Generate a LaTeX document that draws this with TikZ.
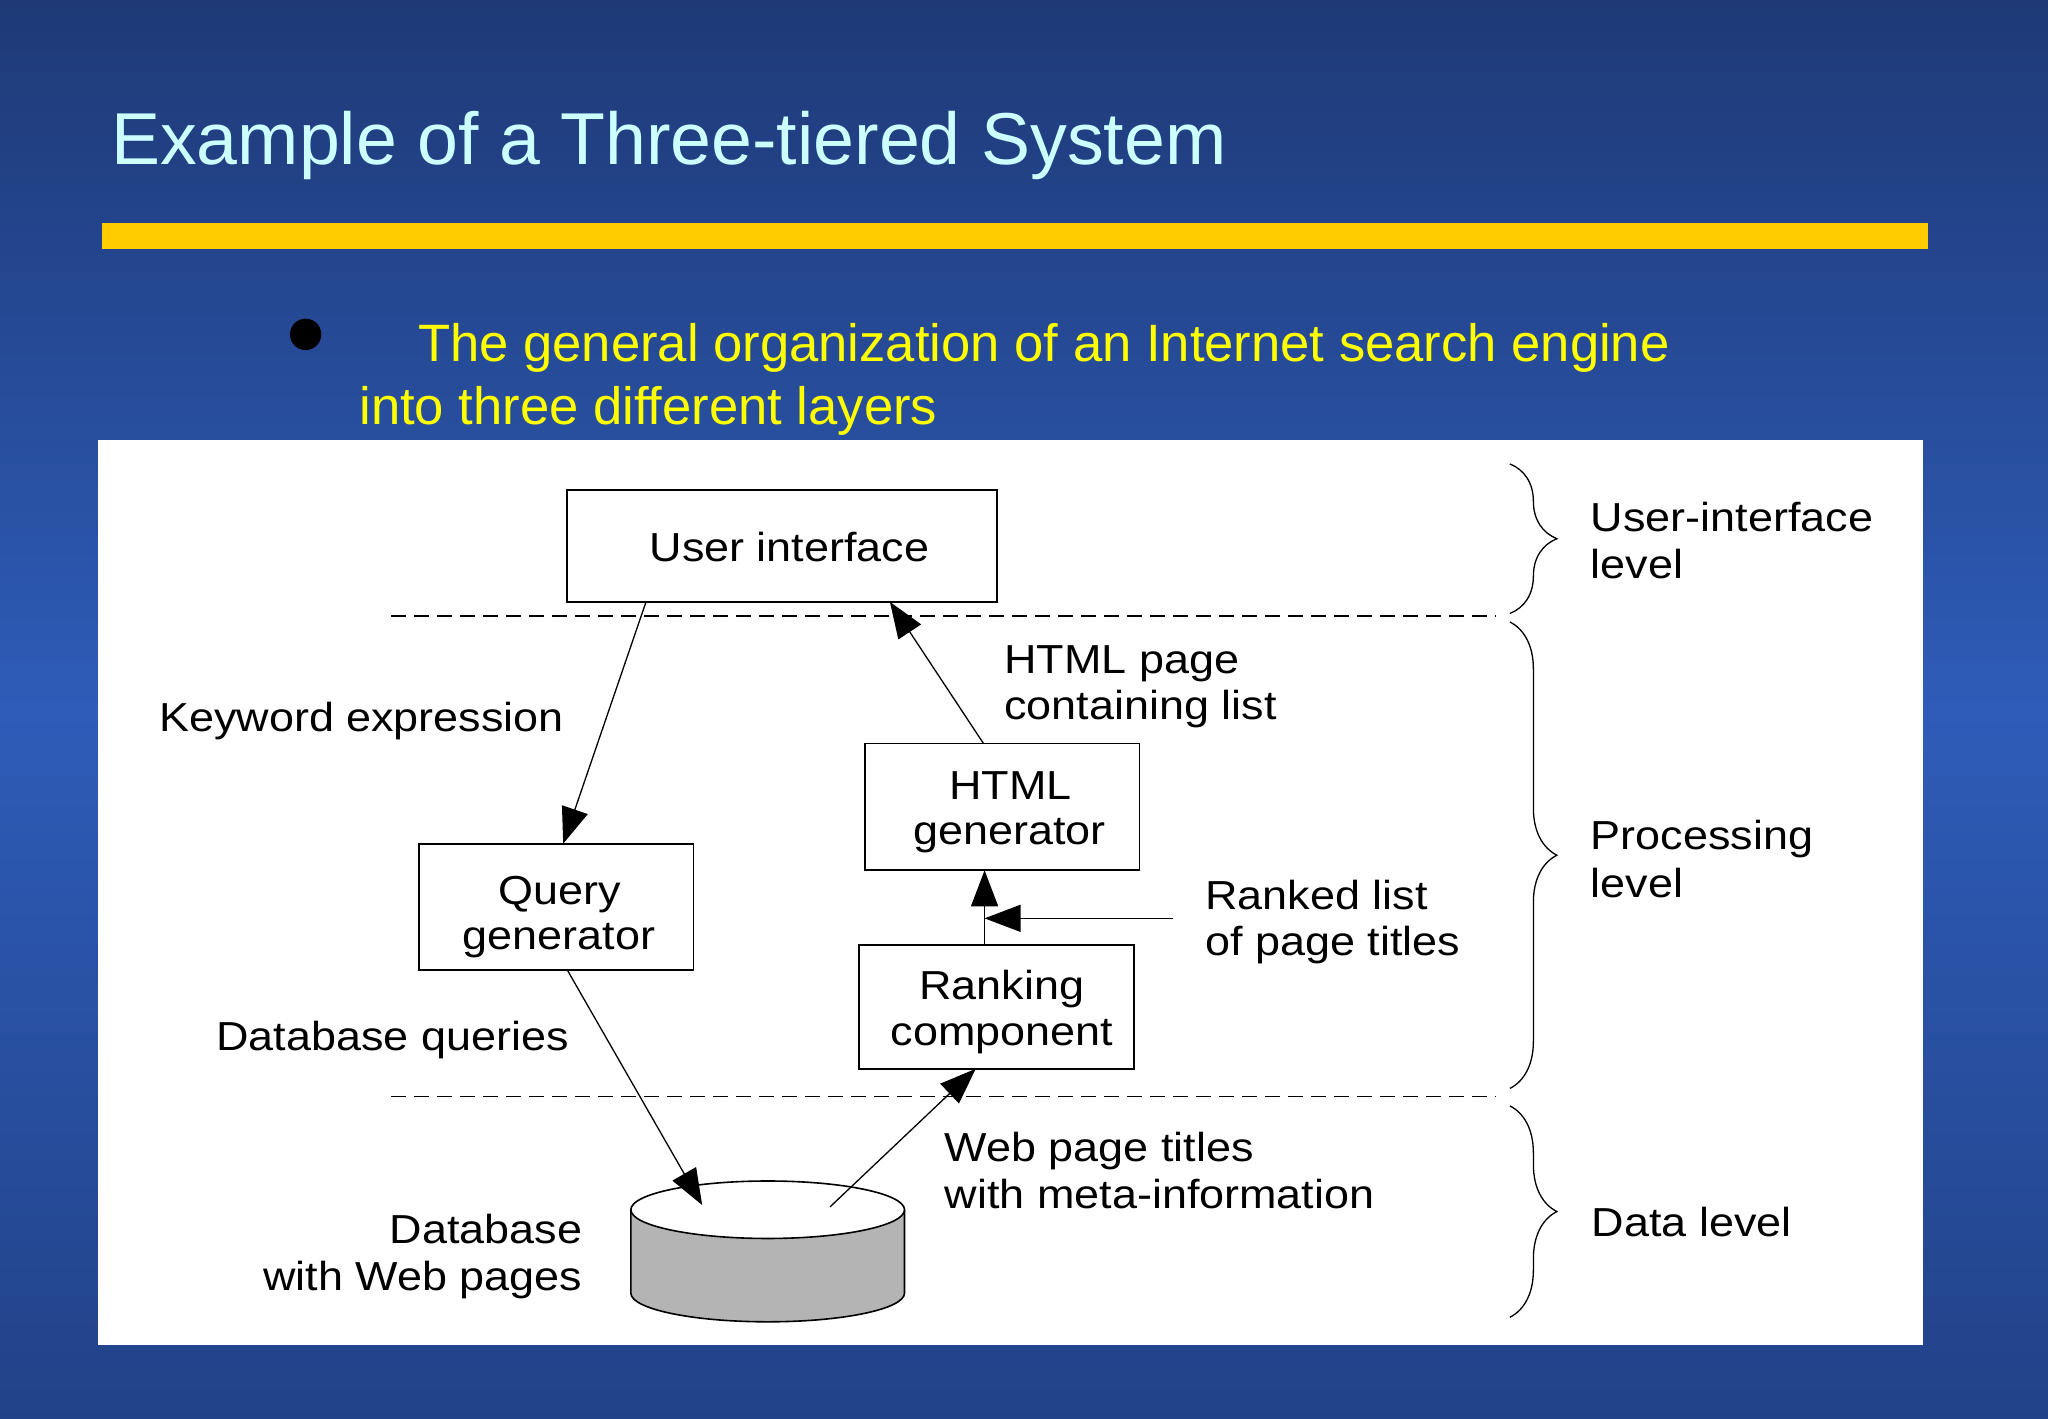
\documentclass[tikz,border=0pt]{standalone}
\usepackage{fontspec}
\setmainfont{Liberation Sans}
\newfontfamily\diagfont[FakeStretch=1.11]{Liberation Sans}
\usetikzlibrary{arrows.meta,decorations.pathreplacing,calc}
\definecolor{bgtop}{RGB}{30,57,118}
\definecolor{bgmid}{RGB}{46,92,184}
\definecolor{bgbot}{RGB}{34,66,136}
\definecolor{titlecol}{RGB}{204,255,255}
\definecolor{barcol}{RGB}{255,204,0}
\definecolor{bulletcol}{RGB}{255,255,0}
\definecolor{dbgray}{RGB}{180,180,180}
\begin{document}
\begin{tikzpicture}[x=1.3061pt,y=-1.3061pt,
  dfont/.style={font=\diagfont\fontsize{40.5}{45.5}\selectfont},
  box/.style={draw=black,line width=1.6pt,fill=white,inner sep=0pt,outer sep=0pt},
  lab/.style={dfont,inner sep=0pt,text=black},
  btxt/.style={lab,anchor=base},
  arr/.style={line width=1.3pt,-{Triangle[length=36pt,width=27pt]}},
  sep/.style={line width=1.3pt,dash pattern=on 15pt off 8pt},
  brc/.style={line width=1.3pt,decorate,decoration={brace,amplitude=47pt}}]
\useasboundingbox (0,0) rectangle (1568,1086);
\shade[top color=bgtop,bottom color=bgbot,middle color=bgmid] (0,0) rectangle (1568,1086);
% title and bar
\node[anchor=base west,inner sep=0pt,text=titlecol,font=\fontsize{73.5}{80}\selectfont] (title) at (85,126.3) {Example of a Three-tiered System};
\fill[barcol] (78,171) rectangle (1476,191);
% bullet
\fill[black] (234,256) circle [radius=12];
\node[anchor=base west,inner sep=0pt,text=bulletcol,font=\fontsize{52.6}{60}\selectfont] (b1) at (320,277) {The general organization of an Internet search engine};
\node[anchor=base west,inner sep=0pt,text=bulletcol,font=\fontsize{52.6}{60}\selectfont] (b2) at (275,325) {into three different layers};
% panel
\fill[white] (75,336.5) rectangle (1472,1030);
% separators
\draw[sep] (299.4,471.6) -- (1145,471.6);
\draw[sep] (299.4,839.7) -- (1145,839.7);
% database cylinder
\fill[dbgray] (483,926.2) -- (483,990) arc[start angle=180,end angle=0,x radius=104.75,y radius=22] -- (692.5,926.2) -- cycle;
\draw[line width=1.6pt] (483,926.2) -- (483,990) arc[start angle=180,end angle=0,x radius=104.75,y radius=22] -- (692.5,926.2);
\draw[line width=1.6pt,fill=white] (587.75,926.2) ellipse [x radius=104.75,y radius=22];
\coordinate (dbin) at (537.6,922.6);
\coordinate (dbout) at (635.5,924);
% boxes
\node[box,minimum width=430pt,minimum height=111.8pt] (ui) at (598.7,418) {};
\node[btxt] (uit) at (604.5,430) {User interface};
\node[box,minimum width=274.3pt,minimum height=126pt] (qg) at (425.8,694.2) {};
\node[btxt] (qgt1) at (428.5,692.4) {Query};
\node[btxt] (qgt2) at (428,726.6) {generator};
\node[box,minimum width=274.5pt,minimum height=126.7pt] (hg) at (767.3,617.8) {};
\node[btxt] (hgt1) at (773.5,611.8) {HTML};
\node[btxt] (hgt2) at (773,646.3) {generator};
\node[box,minimum width=274.5pt,minimum height=123.6pt] (rc) at (762.9,771) {};
\node[btxt] (rct1) at (767,765.2) {Ranking};
\node[btxt] (rct2) at (767,800.1) {component};
% arrows
\draw[arr] ($(ui.south west)!0.1838!(ui.south east)$) -- ($(qg.north west)!0.5257!(qg.north east)$);
\draw[arr] ($(hg.north west)!0.432!(hg.north east)$) -- ($(ui.south west)!0.751!(ui.south east)$);
\coordinate (vx) at (753.8,700);
\draw[arr] (rc.north -| vx) -- (hg.south -| vx);
\coordinate (rlstart) at (898.3,703.1);
\draw[arr] (rlstart) -- (rlstart -| vx);
\draw[arr] ($(qg.south west)!0.54!(qg.south east)$) -- (dbin);
\draw[arr] (dbout) -- ($(rc.south west)!0.4244!(rc.south east)$);
% labels
\node[lab,anchor=base west] (kw) at (121.7,559.7) {Keyword expression};
\node[lab,anchor=base west] (hp1) at (768.7,515.5) {HTML page};
\node[lab,anchor=base west] (hp2) at (768.7,551) {containing list};
\node[lab,anchor=base west] (rl1) at (922.6,696.4) {Ranked list};
\node[lab,anchor=base west] (rl2) at (922.6,731.3) {of page titles};
\node[lab,anchor=base west] (dq) at (165.6,804.5) {Database queries};
\node[lab,anchor=base east] (db1) at (445.9,951.9) {Database};
\node[lab,anchor=base east] (db2) at (445.9,987.7) {with Web pages};
\node[lab,anchor=base west] (wp1) at (723.2,889.4) {Web page titles};
\node[lab,anchor=base west] (wp2) at (723.2,925.1) {with meta-information};
\node[lab,anchor=base west] (ul1) at (1217.8,406.6) {User-interface};
\node[lab,anchor=base west] (ul2) at (1217.8,443.1) {level};
\node[lab,anchor=base west] (pl1) at (1217.8,650.6) {Processing};
\node[lab,anchor=base west] (pl2) at (1217.8,687.2) {level};
\node[lab,anchor=base west] (dl) at (1218.7,947) {Data level};
% braces
\draw[brc] (1156,355.2) -- (1156,469.7);
\draw[brc] (1156,476.2) -- (1156,833.3);
\draw[brc] (1156,846.7) -- (1156,1008.5);
\end{tikzpicture}
\end{document}
